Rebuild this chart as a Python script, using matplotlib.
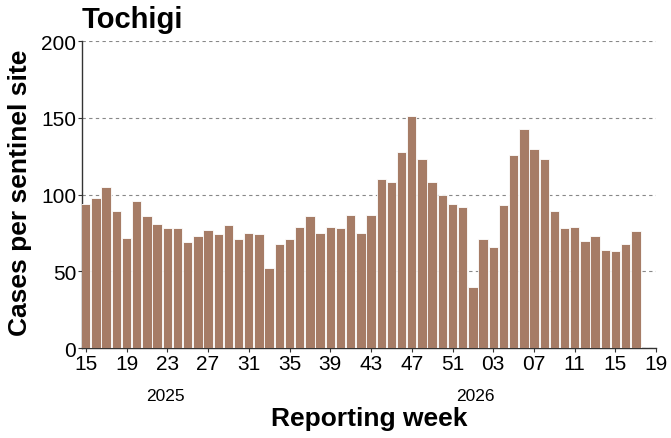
import numpy as np
import matplotlib
matplotlib.use("Agg")
import matplotlib.pyplot as plt
import matplotlib.transforms as mtransforms

plt.rcParams["font.family"] = ["Liberation Sans", "DejaVu Sans"]

# Semanas de notificacion: 2025-W15 .. 2026-W17
semanas_2025 = list(range(15, 53))
semanas_2026 = list(range(1, 18))
casos = [
    94, 98, 105, 89, 72, 96, 86, 81, 78, 78, 69, 73, 77, 74, 80, 71, 75, 74, 52,
    68, 71, 79, 86, 75, 79, 78, 87, 75, 87, 110, 108, 128, 151, 123, 108, 100,
    94, 92,
    40, 71, 66, 93, 126, 143, 130, 123, 89, 78, 79, 70, 73, 64, 63, 68, 76,
]
etiquetas_x = ["15", "19", "23", "27", "31", "35", "39", "43", "47", "51",
               "03", "07", "11", "15", "19"]
anios = ["2025", "2026"]
pos_anios = [7.8, 38.2]      # posicion (indice de semana) de cada anio

COLOR_BARRA = "#a67c66"
H = 439.0

fig = plt.figure(figsize=(6.71, 4.39), dpi=100)
ax = fig.add_axes([0.1218, 0.205, 0.8562, 0.699])

x = np.arange(len(casos))
ax.bar(x, casos, width=0.92, color=COLOR_BARRA, edgecolor="white",
       linewidth=0.6, zorder=3)

ax.set_xlim(-0.4, 56)
ax.set_ylim(0, 200)
ax.set_yticks([0, 50, 100, 150, 200])
ax.set_xticks(np.arange(0, 57, 4))
ax.set_xticklabels(etiquetas_x)
ax.tick_params(axis="both", labelsize=15, length=3, width=0.8,
               color="#333333", pad=1)

ax.yaxis.grid(True, ls=(0, (3, 3)), color="#888888", lw=0.8, zorder=0)
for lado in ["top", "right"]:
    ax.spines[lado].set_visible(False)
for lado in ["left", "bottom"]:
    ax.spines[lado].set_color("#333333")
    ax.spines[lado].set_linewidth(1.0)

# Anios bajo las etiquetas de semana
trans = mtransforms.blended_transform_factory(ax.transData, fig.transFigure)
for p, a in zip(pos_anios, anios):
    fig.text(p, 1 - 401 / H, a, transform=trans, ha="center",
             va="baseline", fontsize=12.5)

fig.text(20 / 671, 1 - 193 / H, "Cases per sentinel site", rotation=90,
         ha="center", va="center", fontsize=19, fontweight="bold")
fig.text(369 / 671, 1 - 426 / H, "Reporting week", ha="center",
         va="baseline", fontsize=19, fontweight="bold")
fig.text(82 / 671, 1 - 28 / H, "Tochigi", ha="left", va="baseline",
         fontsize=21, fontweight="bold")

fig.savefig("out.png", dpi=100)
plt.close(fig)
